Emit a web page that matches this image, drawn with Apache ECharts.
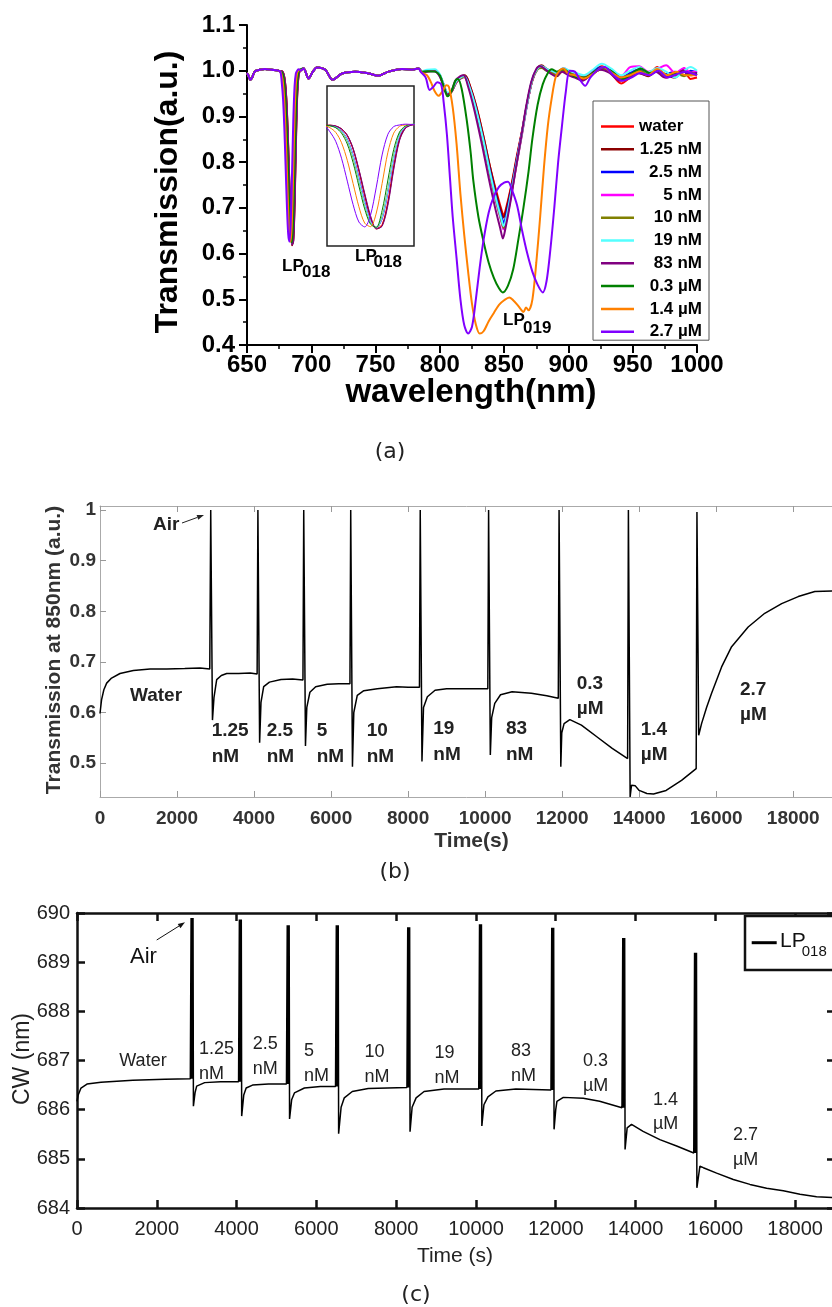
<!DOCTYPE html>
<html>
<head>
<meta charset="utf-8">
<script src="https://cdn.jsdelivr.net/npm/echarts@6/dist/echarts.min.js"></script>
<style>
html, body { margin: 0; padding: 0; background: #fff; }
#main { width: 832px; height: 1307px; }
</style>
</head>
<body>
<div id="main"></div>
<script>
// ---- (a) spectra ----
var concNames = ['water', '1.25 nM', '2.5 nM', '5 nM', '10 nM', '19 nM', '83 nM', '0.3 µM', '1.4 µM', '2.7 µM'];
var concColors = ['#ff0000', '#8b0000', '#0000ff', '#ff00ff', '#808000', '#55ffff', '#800080', '#008000', '#ff8000', '#8000ff'];

// flat part before the LP018 dip (same for all)
var wlStart = [650, 651, 652.6, 654, 656, 660, 664, 669, 674.6, 676];
var tStart = [0.995, 0.99, 0.98, 0.985, 0.998, 1.002, 1.004, 1.002, 1.0, 0.998];

// LP018 dip, one row per concentration
var wlDip = [677, 678, 679, 680, 681, 682, 683, 684, 685, 686, 687, 688, 689, 690, 691, 692];
var tDip = [
  [0.999, 0.996, 0.985, 0.96, 0.91, 0.83, 0.74, 0.66, 0.62, 0.635, 0.72, 0.85, 0.95, 0.99, 1.0, 1.003],
  [0.999, 0.996, 0.986, 0.962, 0.913, 0.835, 0.745, 0.663, 0.618, 0.63, 0.712, 0.842, 0.946, 0.988, 1.0, 1.003],
  [0.998, 0.993, 0.979, 0.948, 0.89, 0.808, 0.72, 0.65, 0.623, 0.655, 0.752, 0.875, 0.96, 0.993, 1.001, 1.003],
  [0.998, 0.993, 0.978, 0.946, 0.887, 0.804, 0.716, 0.648, 0.622, 0.658, 0.756, 0.878, 0.962, 0.993, 1.001, 1.003],
  [0.998, 0.992, 0.976, 0.942, 0.88, 0.796, 0.709, 0.643, 0.622, 0.664, 0.765, 0.886, 0.966, 0.994, 1.001, 1.003],
  [0.998, 0.993, 0.978, 0.945, 0.885, 0.8, 0.712, 0.645, 0.622, 0.66, 0.76, 0.882, 0.964, 0.994, 1.001, 1.004],
  [0.999, 0.996, 0.986, 0.963, 0.915, 0.838, 0.75, 0.668, 0.62, 0.628, 0.705, 0.835, 0.942, 0.987, 0.999, 1.003],
  [0.997, 0.99, 0.97, 0.93, 0.862, 0.776, 0.692, 0.636, 0.625, 0.686, 0.798, 0.91, 0.974, 0.996, 1.002, 1.003],
  [0.99, 0.973, 0.935, 0.87, 0.785, 0.70, 0.64, 0.627, 0.677, 0.785, 0.90, 0.97, 0.995, 1.0, 1.002, 1.0],
  [0.975, 0.94, 0.878, 0.794, 0.708, 0.644, 0.626, 0.669, 0.772, 0.89, 0.966, 0.994, 1.0, 1.003, 1.002, 1.0]
];

// ripples between the two dips
var wlRipple = [694, 697.9, 701, 704.4, 710.9, 716.6, 723.9, 734.2, 744.6, 752.3, 760.1, 770.5, 778.3, 783.4];
var tRipple = [1.005, 0.983, 0.997, 1.007, 1.002, 0.98, 0.994, 0.998, 0.994, 0.989, 0.998, 1.004, 1.002, 1.005];

// LP019 region to 1000 nm, [wavelength, T]
var lp019 = [
  [[786,0.998],[790,1.0],[796,1.001],[800,0.99],[803,0.97],[806,0.95],[809,0.955],[813,0.975],[817,0.985],[820,0.988],[824,0.962],[829,0.915],[834,0.855],[839,0.79],[844,0.735],[848,0.695],[849.5,0.684],[852,0.705],[856,0.755],[860,0.815],[864,0.87],[868,0.93],[872,0.98],[876,1.005],[879,1.01],[883,1.003],[887,0.995],[891,0.99],[896,1.0],[901,0.992],[906,0.988],[912,0.98],[918,0.995],[926,1.01],[933,0.995],[941,0.972],[948,0.985],[955,1.0],[962,0.99],[969,1.008],[976,0.985],[983,0.99],[990,0.998],[995,0.982],[1000,0.985]],
  [[786,0.997],[790,0.999],[796,1.0],[800,0.988],[803,0.968],[806,0.948],[809,0.953],[813,0.977],[817,0.988],[819.5,0.99],[823,0.97],[828,0.925],[834,0.855],[839,0.79],[844,0.73],[848,0.69],[849.5,0.679],[852,0.7],[856,0.752],[860,0.812],[864,0.868],[868,0.93],[872,0.98],[876,1.006],[879,1.012],[883,1.004],[887,0.997],[891,0.988],[896,1.002],[901,0.995],[906,0.99],[912,0.984],[918,0.99],[926,1.006],[933,0.998],[941,0.98],[948,0.99],[955,0.995],[962,0.988],[969,1.0],[976,0.99],[983,0.985],[990,1.005],[995,0.99],[1000,0.993]],
  [[786,0.998],[790,1.0],[796,1.0],[800,0.99],[803,0.968],[806,0.95],[809,0.955],[813,0.976],[817,0.985],[819.5,0.987],[823,0.965],[828,0.918],[834,0.845],[839,0.78],[844,0.72],[848,0.68],[849.7,0.667],[852,0.69],[856,0.745],[860,0.808],[864,0.867],[868,0.93],[872,0.982],[876,1.006],[879,1.01],[883,1.0],[887,0.997],[891,0.99],[896,1.004],[901,0.997],[906,0.99],[912,0.985],[918,0.998],[926,1.008],[933,1.0],[941,0.985],[948,0.995],[955,1.003],[962,0.993],[969,1.0],[976,0.993],[983,0.998],[990,0.99],[995,1.0],[1000,0.995]],
  [[786,0.998],[790,1.0],[796,0.999],[800,0.99],[803,0.967],[806,0.95],[809,0.956],[813,0.976],[817,0.985],[819,0.986],[823,0.963],[828,0.915],[834,0.84],[839,0.772],[844,0.71],[848,0.668],[849.5,0.653],[852,0.675],[856,0.735],[860,0.8],[864,0.862],[868,0.928],[872,0.98],[876,1.004],[879,1.008],[883,1.002],[887,0.996],[891,0.992],[896,1.006],[901,0.998],[906,0.992],[912,0.988],[918,0.996],[926,1.004],[933,0.998],[941,0.988],[948,1.008],[955,1.01],[962,0.998],[969,1.004],[976,1.012],[983,0.995],[990,1.006],[995,0.996],[1000,1.0]],
  [[786,0.997],[790,0.999],[796,1.0],[800,0.99],[803,0.966],[806,0.948],[809,0.955],[813,0.977],[817,0.985],[819,0.986],[823,0.962],[828,0.914],[834,0.84],[839,0.773],[844,0.712],[848,0.67],[849.5,0.656],[852,0.678],[856,0.738],[860,0.802],[864,0.864],[868,0.93],[872,0.98],[876,1.003],[879,1.006],[883,1.0],[887,0.995],[891,0.99],[896,1.002],[901,0.996],[906,0.99],[912,0.985],[918,0.993],[926,1.003],[933,0.997],[941,0.985],[948,0.992],[955,1.0],[962,0.994],[969,0.998],[976,0.99],[983,0.994],[990,0.988],[995,0.996],[1000,0.99]],
  [[786,0.999],[790,1.002],[796,1.003],[800,0.992],[803,0.97],[806,0.952],[809,0.957],[813,0.978],[817,0.987],[819,0.988],[823,0.964],[828,0.917],[834,0.845],[839,0.777],[844,0.716],[848,0.674],[849.5,0.66],[852,0.682],[856,0.742],[860,0.805],[864,0.866],[868,0.93],[872,0.982],[876,1.005],[879,1.01],[883,1.004],[887,1.0],[891,0.995],[896,1.006],[901,1.0],[906,0.995],[912,0.99],[918,1.0],[926,1.015],[933,1.005],[941,0.99],[948,1.0],[955,1.008],[962,0.996],[969,1.006],[976,0.998],[983,0.985],[990,1.0],[995,1.008],[1000,1.0]],
  [[786,0.997],[790,0.998],[796,0.999],[800,0.987],[803,0.965],[806,0.948],[809,0.955],[812,0.978],[816,0.988],[818.5,0.99],[822,0.965],[827,0.912],[833,0.835],[838,0.765],[843,0.7],[847,0.655],[849,0.633],[851,0.655],[855,0.715],[859,0.785],[863,0.85],[867,0.92],[871,0.975],[875,1.004],[878,1.01],[882,1.003],[886,0.994],[890,0.988],[895,0.998],[900,0.99],[905,0.985],[911,0.978],[917,0.99],[925,1.002],[932,0.995],[940,0.978],[947,0.985],[954,0.995],[961,0.99],[968,0.998],[975,0.985],[982,0.99],[989,1.0],[995,0.992],[1000,0.995]],
  [[786,0.998],[790,0.999],[796,0.998],[800,0.99],[803,0.965],[806,0.944],[809,0.955],[812,0.978],[814,0.982],[817,0.96],[821,0.89],[824,0.82],[826,0.76],[830,0.68],[834,0.626],[838,0.58],[842,0.547],[846,0.524],[849,0.515],[853,0.53],[857,0.565],[861,0.63],[865,0.7],[869,0.78],[872,0.852],[876,0.925],[880,0.97],[884,0.995],[887,1.003],[891,0.998],[896,1.004],[901,0.994],[906,0.986],[913,0.985],[920,0.998],[927,1.007],[934,0.998],[942,0.982],[949,0.993],[956,1.005],[963,0.995],[970,1.0],[977,0.99],[984,0.996],[991,0.99],[1000,0.992]],
  [[786,0.996],[790,0.99],[793,0.975],[796,0.955],[799,0.945],[802,0.955],[805,0.968],[807,0.965],[810,0.92],[813,0.84],[816,0.73],[819,0.64],[822,0.56],[825,0.49],[828,0.445],[831,0.425],[834,0.43],[838,0.452],[842,0.47],[846,0.488],[850,0.498],[854,0.504],[857,0.498],[860,0.489],[863,0.478],[865,0.472],[867,0.482],[869,0.476],[872,0.5],[875,0.58],[878,0.68],[881,0.79],[884,0.88],[887,0.94],[890,0.985],[893,1.0],[896,1.005],[900,0.993],[905,0.99],[912,0.983],[920,0.995],[927,1.008],[934,0.995],[941,0.985],[948,0.99],[955,0.998],[962,0.99],[969,1.004],[977,0.99],[984,0.998],[991,0.99],[1000,0.99]],
  [[785,0.998],[789,0.985],[792,0.958],[795,0.965],[798,0.975],[801,0.97],[803,0.93],[805.5,0.86],[808,0.76],[810,0.68],[813,0.59],[816,0.5],[819,0.443],[822,0.425],[825,0.44],[828,0.5],[831,0.57],[834,0.63],[838,0.69],[842,0.725],[846,0.746],[850,0.755],[853,0.757],[856,0.74],[860,0.706],[864,0.65],[868,0.6],[872,0.56],[876,0.532],[880,0.515],[883,0.54],[886,0.61],[889,0.7],[892,0.8],[895,0.88],[898,0.955],[901,1.0],[905,0.998],[909,0.98],[913,0.967],[917,0.985],[922,1.0],[928,1.008],[935,0.99],[942,0.978],[949,0.985],[956,0.995],[963,0.99],[970,1.0],[977,0.985],[984,0.992],[991,0.998],[1000,0.99]]
];

// ---- (b) transmission at 850 nm vs time, [s, T] ----
var bTrace = [
  [0,0.598],[40,0.625],[100,0.645],[173,0.658],[300,0.668],[519,0.677],[866,0.683],[1300,0.686],[1732,0.686],[2200,0.687],[2597,0.688],[2850,0.686],
  [2865,0.686],[2875,1.0],[2910,1.0],[2920,0.585],[2960,0.63],[3030,0.665],[3150,0.673],[3290,0.677],[3600,0.677],[3900,0.678],[4080,0.676],
  [4090,0.676],[4100,1.0],[4135,1.0],[4145,0.54],[4180,0.62],[4250,0.651],[4400,0.66],[4700,0.665],[5000,0.666],[5270,0.664],
  [5280,0.664],[5290,1.0],[5325,1.0],[5335,0.534],[5370,0.61],[5450,0.64],[5600,0.651],[5900,0.656],[6200,0.657],[6490,0.657],
  [6500,0.657],[6510,1.0],[6545,1.0],[6555,0.493],[6590,0.6],[6680,0.634],[6850,0.643],[7200,0.647],[7700,0.651],[8000,0.65],[8295,0.65],
  [8305,0.65],[8315,1.0],[8350,1.0],[8360,0.503],[8400,0.61],[8500,0.631],[8700,0.644],[9000,0.647],[9500,0.647],[10070,0.647],
  [10080,0.647],[10090,1.0],[10125,1.0],[10135,0.516],[10170,0.59],[10250,0.618],[10400,0.635],[10700,0.641],[11200,0.638],[11600,0.633],[11900,0.628],
  [11910,0.628],[11920,1.0],[11955,1.0],[11965,0.493],[11990,0.56],[12050,0.578],[12200,0.586],[12500,0.575],[12900,0.552],[13300,0.529],[13700,0.509],
  [13710,0.509],[13720,1.0],[13755,1.0],[13765,0.433],[13800,0.456],[13900,0.455],[14000,0.446],[14200,0.44],[14372,0.439],[14700,0.446],[15100,0.466],[15480,0.489],
  [15490,0.489],[15500,0.996],[15535,0.996],[15545,0.555],[15620,0.578],[15750,0.61],[15880,0.638],[16140,0.69],[16400,0.73],[16830,0.769],[17260,0.796],[17700,0.815],[18130,0.829],[18560,0.839],[19013,0.84]
];

// ---- (c) LP018 central wavelength vs time, [s, nm] ----
var cTrace = [
  [0,686.17],[30,686.3],[100,686.44],[250,686.52],[600,686.56],[1400,686.6],[2200,686.62],[2840,686.63],
  [2850,686.63],[2860,689.9],[2872,686.63],[2884,689.9],[2896,686.63],[2908,689.9],[2918,686.07],[2960,686.35],[3000,686.48],[3200,686.55],[3600,686.57],[4050,686.57],
  [4060,686.57],[4070,689.87],[4082,686.57],[4094,689.87],[4106,686.57],[4118,689.87],[4128,685.87],[4180,686.3],[4240,686.44],[4400,686.5],[4800,686.52],[5250,686.52],
  [5260,686.52],[5270,689.75],[5282,686.52],[5294,689.75],[5306,686.52],[5318,689.75],[5328,685.81],[5380,686.2],[5450,686.34],[5700,686.44],[6100,686.47],[6480,686.47],
  [6490,686.47],[6500,689.75],[6512,686.47],[6524,689.75],[6536,686.47],[6548,689.75],[6558,685.51],[6620,686.05],[6700,686.24],[6900,686.37],[7300,686.43],[8270,686.45],
  [8280,686.45],[8290,689.71],[8302,686.45],[8314,689.71],[8326,686.45],[8338,689.71],[8348,685.55],[8400,686.05],[8500,686.24],[8700,686.37],[9200,686.42],[10070,686.42],
  [10080,686.42],[10090,689.77],[10102,686.42],[10114,689.77],[10126,686.42],[10138,689.77],[10148,685.67],[10200,686.1],[10300,686.26],[10500,686.38],[11000,686.42],[11880,686.4],
  [11890,686.4],[11900,689.7],[11912,686.4],[11924,689.7],[11936,686.4],[11948,689.7],[11958,685.6],[12000,686.0],[12030,686.17],[12190,686.25],[12690,686.23],[13100,686.17],[13660,686.04],
  [13670,686.04],[13680,689.49],[13692,686.04],[13704,689.49],[13716,686.04],[13728,689.49],[13738,685.19],[13790,685.63],[13900,685.7],[14190,685.56],[14610,685.39],[15030,685.26],[15460,685.12],
  [15470,685.12],[15480,689.19],[15492,685.12],[15504,689.19],[15516,685.12],[15528,689.19],[15538,684.41],[15614,684.85],[15700,684.82],[16033,684.71],[16451,684.58],[16868,684.48],[17286,684.4],[17704,684.35],[18122,684.28],[18539,684.23],[18950,684.21]
];

function spectrum(i) {
  var pts = [];
  wlStart.forEach(function (w, k) { pts.push([w, tStart[k]]); });
  wlDip.forEach(function (w, k) { pts.push([w, tDip[i][k]]); });
  wlRipple.forEach(function (w, k) { pts.push([w, tRipple[k]]); });
  return pts.concat(lp019[i]);
}

var FONT = '"Liberation Sans", Arial, sans-serif';

function text(s, x, y, font, opt) {
  opt = opt || {};
  return {
    type: 'text', x: x, y: y, z: 102, rotation: opt.rotation || 0, silent: true,
    style: {
      text: s, font: font, fill: opt.fill || '#000',
      align: opt.align || 'left', verticalAlign: 'middle',
      lineHeight: opt.lineHeight || undefined
    }
  };
}

function arrow(x1, y1, x2, y2, color) {
  var dx = x2 - x1, dy = y2 - y1, len = Math.sqrt(dx * dx + dy * dy);
  var ux = dx / len, uy = dy / len;
  var bx = x2 - 7 * ux, by = y2 - 7 * uy;
  return [
    { type: 'line', z: 100, silent: true, shape: { x1: x1, y1: y1, x2: bx, y2: by }, style: { stroke: color, lineWidth: 1 } },
    { type: 'polygon', z: 100, silent: true, shape: { points: [[x2, y2], [bx - 2.5 * uy, by + 2.5 * ux], [bx + 2.5 * uy, by - 2.5 * ux]] }, style: { fill: color } }
  ];
}

function plain(v) { return String(v); }

var series = [];
concNames.forEach(function (name, i) {
  var pts = spectrum(i);
  series.push({
    name: name, type: 'line', xAxisIndex: 0, yAxisIndex: 0, data: pts,
    symbol: 'none', smooth: 0.3, silent: true,
    lineStyle: { color: concColors[i], width: 2 }, itemStyle: { color: concColors[i] }
  });
  series.push({
    name: name, type: 'line', xAxisIndex: 1, yAxisIndex: 1, data: pts,
    symbol: 'none', smooth: 0.3, silent: true,
    lineStyle: { color: concColors[i], width: 1 }, itemStyle: { color: concColors[i] }
  });
});
series.push({
  name: 'T850', type: 'line', xAxisIndex: 2, yAxisIndex: 2, data: bTrace,
  symbol: 'none', silent: true, lineStyle: { color: '#000', width: 1.5 }
});
series.push({
  name: 'LP018', type: 'line', xAxisIndex: 4, yAxisIndex: 3, data: cTrace,
  symbol: 'none', silent: true, lineStyle: { color: '#000', width: 1.5 }
});

var bFont = 'bold 19px ' + FONT;
var cFont = '18px ' + FONT;
var graphics = [
  // (a)
  text('Transmission(a.u.)', 168, 192, 'bold 32px ' + FONT, { align: 'center', rotation: Math.PI / 2 }),
  text('wavelength(nm)', 471, 393, 'bold 33px ' + FONT, { align: 'center' }),
  text('(a)', 390, 452, '22px "DejaVu Sans", sans-serif', { align: 'center', fill: '#222' }),
  text('LP', 282, 266, 'bold 17px ' + FONT),
  text('018', 302, 272, 'bold 17px ' + FONT),
  text('LP', 355, 256, 'bold 17px ' + FONT),
  text('018', 373.5, 262, 'bold 17px ' + FONT),
  text('LP', 503, 320, 'bold 17px ' + FONT),
  text('019', 523, 328, 'bold 17px ' + FONT),
  // (b)
  text('Transmission at 850nm (a.u.)', 54, 650, 'bold 21px ' + FONT, { align: 'center', rotation: Math.PI / 2, fill: '#333' }),
  text('Time(s)', 471.5, 841, 'bold 21px ' + FONT, { align: 'center', fill: '#333' }),
  text('(b)', 395, 872, '22px "DejaVu Sans", sans-serif', { align: 'center', fill: '#222' }),
  text('Air', 153, 525, bFont, { fill: '#222' }),
  text('Water', 130, 696, bFont, { fill: '#222' }),
  text('1.25\nnM', 211.7, 743.7, bFont, { fill: '#222', lineHeight: 26 }),
  text('2.5\nnM', 266.7, 743.7, bFont, { fill: '#222', lineHeight: 26 }),
  text('5\nnM', 316.7, 743.7, bFont, { fill: '#222', lineHeight: 26 }),
  text('10\nnM', 366.7, 743.7, bFont, { fill: '#222', lineHeight: 26 }),
  text('19\nnM', 433.3, 741.7, bFont, { fill: '#222', lineHeight: 26 }),
  text('83\nnM', 506, 741.7, bFont, { fill: '#222', lineHeight: 26 }),
  text('0.3\nµM', 576.7, 695.8, bFont, { fill: '#222', lineHeight: 25 }),
  text('1.4\nµM', 640.7, 742.5, bFont, { fill: '#222', lineHeight: 25 }),
  text('2.7\nµM', 740, 702.5, bFont, { fill: '#222', lineHeight: 25 }),
  // (c)
  text('CW (nm)', 23, 1059, '23px ' + FONT, { align: 'center', rotation: Math.PI / 2, fill: '#222' }),
  text('Time (s)', 455, 1256, '21px ' + FONT, { align: 'center', fill: '#222' }),
  text('(c)', 416, 1295, '22px "DejaVu Sans", sans-serif', { align: 'center', fill: '#222' }),
  text('Air', 143.5, 957, '22px ' + FONT, { align: 'center', fill: '#111' }),
  text('Water', 119.3, 1061, cFont, { fill: '#222' }),
  text('1.25\nnM', 199, 1062, cFont, { fill: '#222', lineHeight: 25 }),
  text('2.5\nnM', 252.7, 1057, cFont, { fill: '#222', lineHeight: 25 }),
  text('5\nnM', 304, 1064, cFont, { fill: '#222', lineHeight: 25 }),
  text('10\nnM', 364.5, 1065, cFont, { fill: '#222', lineHeight: 25 }),
  text('19\nnM', 434.5, 1065.5, cFont, { fill: '#222', lineHeight: 25 }),
  text('83\nnM', 511, 1064, cFont, { fill: '#222', lineHeight: 25 }),
  text('0.3\nµM', 583, 1074, cFont, { fill: '#222', lineHeight: 25 }),
  text('1.4\nµM', 653, 1111.7, cFont, { fill: '#222', lineHeight: 24 }),
  text('2.7\nµM', 733, 1147.5, cFont, { fill: '#222', lineHeight: 25 }),
  // (c) legend box
  { type: 'rect', z: 100, silent: true, shape: { x: 745, y: 916, width: 100, height: 54 }, style: { fill: '#fff', stroke: '#111', lineWidth: 2.5 } },
  { type: 'line', z: 101, silent: true, shape: { x1: 751.7, y1: 942.7, x2: 776.7, y2: 942.7 }, style: { stroke: '#000', lineWidth: 3 } },
  text('LP', 780, 941, '21px ' + FONT, { fill: '#111' }),
  text('018', 801.7, 951.5, '15px ' + FONT, { fill: '#111' })
];
graphics = graphics.concat(arrow(182, 523, 204, 515, '#222'), arrow(156.7, 940, 185, 922.3, '#111'));

var aLabel = { color: '#000', fontSize: 24, fontWeight: 'bold', fontFamily: FONT };
var aLine = { show: true, lineStyle: { color: '#000', width: 2 } };
var aTick = { show: true, length: 8, lineStyle: { color: '#000', width: 2 } };
var aMinor = { show: true, splitNumber: 2, length: 4, lineStyle: { color: '#000', width: 1.5 } };

var bLabel = { color: '#333', fontSize: 19, fontWeight: 'bold', fontFamily: FONT };
var bLine = { show: true, onZero: false, lineStyle: { color: '#aaa', width: 1 } };
var bTick = { show: true, inside: true, length: 6, lineStyle: { color: '#999', width: 1 } };

var cLabel = { color: '#222', fontSize: 20, fontFamily: FONT };
var cLine = { show: true, onZero: false, lineStyle: { color: '#111', width: 2.5 } };
var cTick = { show: true, inside: true, length: 8, lineStyle: { color: '#111', width: 2.5 } };

var option = {
  animation: false,
  backgroundColor: '#fff',
  grid: [
    { left: 247, top: 25, width: 450, height: 320, outerBoundsMode: 'none' },
    { left: 327, top: 86, width: 87, height: 160, show: true, borderColor: '#222', borderWidth: 1.5, backgroundColor: 'transparent', outerBoundsMode: 'none' },
    { left: 100, top: 506, width: 751, height: 291, outerBoundsMode: 'none' },
    { left: 77, top: 913, width: 758, height: 295, outerBoundsMode: 'none' }
  ],
  legend: {
    data: concNames, orient: 'vertical', left: 593, top: 101,
    padding: [17, 7, 0, 8], itemGap: 5.8, itemWidth: 33, itemHeight: 2.5, icon: 'rect',
    borderColor: '#555', borderWidth: 1, selectedMode: false,
    formatter: function (n) { return n === concNames[0] ? '{l|' + n + '}' : '{r|' + n + '}'; },
    textStyle: {
      rich: {
        l: { width: 63, align: 'left', fontSize: 17, lineHeight: 17, fontWeight: 'bold', fontFamily: FONT, color: '#000' },
        r: { width: 63, align: 'right', fontSize: 17, lineHeight: 17, fontWeight: 'bold', fontFamily: FONT, color: '#000' }
      }
    }
  },
  xAxis: [
    { gridIndex: 0, type: 'value', min: 650, max: 1000, interval: 50, axisLine: aLine, axisTick: aTick, minorTick: aMinor,
      axisLabel: Object.assign({ margin: 8, formatter: plain }, aLabel), splitLine: { show: false } },
    { gridIndex: 1, type: 'value', min: 676.5, max: 691.5, show: false },
    { gridIndex: 2, type: 'value', min: 0, max: 19500, interval: 2000, axisLine: bLine, axisTick: bTick,
      axisLabel: Object.assign({ margin: 12, showMaxLabel: false, formatter: plain }, bLabel), splitLine: { show: false } },
    { gridIndex: 2, type: 'value', position: 'top', min: 0, max: 19500, interval: 2000, axisLine: bLine, axisTick: bTick,
      axisLabel: { show: false }, splitLine: { show: false } },
    { gridIndex: 3, type: 'value', min: 0, max: 19000, interval: 2000, axisLine: cLine, axisTick: cTick,
      axisLabel: Object.assign({ margin: 11, showMaxLabel: false, formatter: plain }, cLabel), splitLine: { show: false } },
    { gridIndex: 3, type: 'value', position: 'top', min: 0, max: 19000, interval: 2000, axisLine: cLine, axisTick: cTick,
      axisLabel: { show: false }, splitLine: { show: false } }
  ],
  yAxis: [
    { gridIndex: 0, type: 'value', min: 0.4, max: 1.1, interval: 0.1, axisLine: aLine, axisTick: aTick, minorTick: aMinor,
      axisLabel: Object.assign({ margin: 12, formatter: function (v) { return v.toFixed(1); } }, aLabel), splitLine: { show: false } },
    { gridIndex: 1, type: 'value', min: 0.556, max: 1.143, show: false },
    { gridIndex: 2, type: 'value', min: 0.433, max: 1.008, axisLine: bLine, axisTick: bTick,
      axisLabel: Object.assign({ margin: 4, showMinLabel: false, showMaxLabel: false,
        formatter: function (v) { return Math.abs(v - 1) < 1e-9 ? '1' : v.toFixed(1); } }, bLabel),
      splitLine: { show: false } },
    { gridIndex: 3, type: 'value', min: 684, max: 690, interval: 1, axisLine: cLine, axisTick: cTick,
      axisLabel: Object.assign({ margin: 7, formatter: plain }, cLabel), splitLine: { show: false } },
    { gridIndex: 3, type: 'value', position: 'right', min: 684, max: 690, interval: 1, axisLine: cLine, axisTick: cTick,
      axisLabel: { show: false }, splitLine: { show: false } }
  ],
  series: series,
  graphic: graphics
};

var chart = echarts.init(document.getElementById('main'));
chart.setOption(option);
</script>
</body>
</html>
